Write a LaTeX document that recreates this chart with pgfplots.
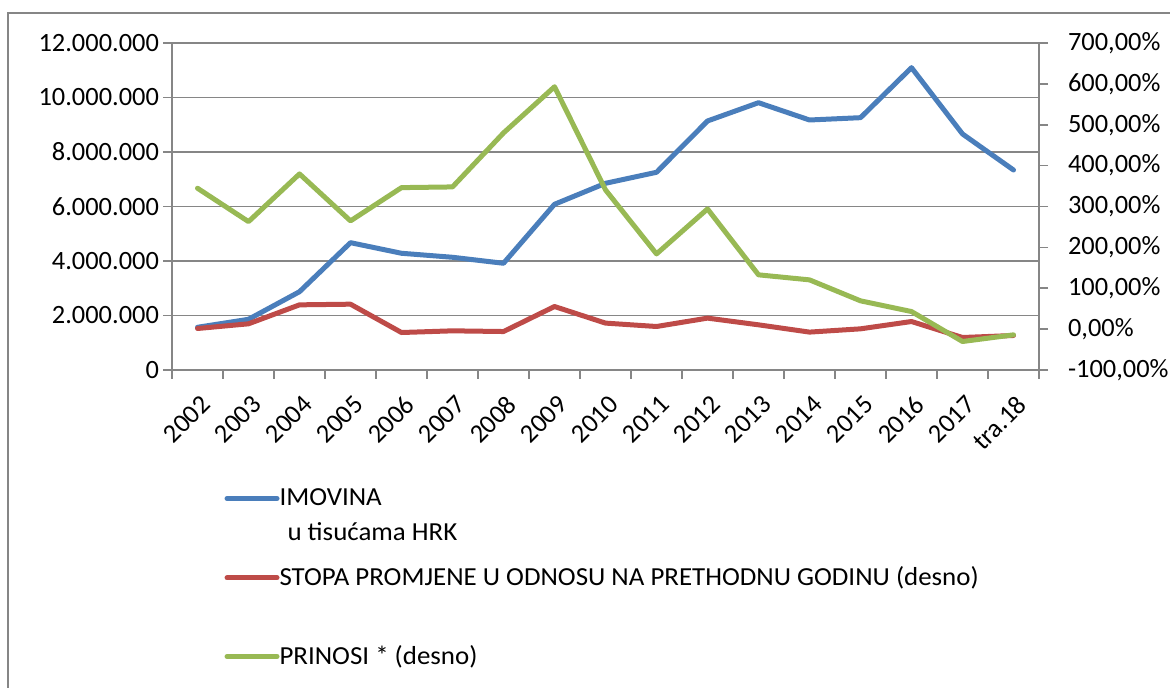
\documentclass[border=0pt]{standalone}
\usepackage{pgfplots}
\usepackage{pgfplotstable}
\pgfplotsset{compat=1.18}
\usepackage{fontspec}
\setmainfont{Carlito}
\newfontfamily\legfam{Carlito}[FakeStretch=1.035]
\definecolor{cblue}{RGB}{74,126,187}
\definecolor{cred}{RGB}{190,75,72}
\definecolor{cgreen}{RGB}{152,185,84}
\definecolor{cgrid}{RGB}{134,134,134}
\newcommand\lblfont{\fontsize{13.2}{15.8}\selectfont}
\newcommand\legfont{\legfam\fontsize{13}{15.6}\selectfont}

\pgfplotstableread{
x imovina stopa prinosi
0  1567000   1.5   344.7
1  1860000  13.0   263.0
2  2873000  59.4   379.7
3  4672000  61.0   264.8
4  4283000  -8.3   346.2
5  4136000  -4.2   347.9
6  3916000  -5.9   480.0
7  6081000  55.3   593.0
8  6851000  14.7   340.6
9  7255000   6.4   184.0
10 9138000  26.9   294.0
11 9809000  10.5   132.8
12 9174000  -7.3   120.5
13 9259000   0.7    69.2
14 11094000 18.6    43.0
15 8661000 -20.5   -30.3
16 7339000 -15.6   -14.0
}\datatable

\pgfplotsset{
  common/.style={
    scale only axis, width=433.5pt, height=163.5pt,
    at={(86pt,159pt)}, anchor=south west,
    xmin=-0.5, xmax=16.5,
    tick align=outside,
    major tick length=4.5pt, minor tick length=4.5pt,
    tick style={cgrid, line width=0.75pt},
    axis line style={cgrid, line width=0.75pt, -},
    tick label style={font=\lblfont, text=black},
    legend cell align=left,
    legend style={draw=none, fill=none, inner sep=0pt, outer sep=0pt,
      font=\legfont, nodes={inner sep=0pt}, column sep=0pt},
    legend image code/.code={\draw[##1, line cap=round] (0pt,0pt) -- (25pt,0pt);},
    every axis plot/.append style={line width=2.5pt, line join=round, line cap=round, mark=none},
  }
}

\begin{document}
\begin{tikzpicture}
\useasboundingbox (0,0) rectangle (585pt,344pt);
\draw[cgrid, line width=0.75pt] (4pt,-5pt) -- (4pt,337.5pt) -- (590pt,337.5pt);

\begin{axis}[common,
  ymin=0, ymax=12000000, scaled y ticks=false,
  ytick={0,2000000,4000000,6000000,8000000,10000000,12000000},
  yticklabels={0,2.000.000,4.000.000,6.000.000,8.000.000,10.000.000,12.000.000},
  yticklabel style={xshift=1.5pt},
  axis x line*=bottom, axis y line*=left,
  ymajorgrids, grid style={cgrid, line width=0.75pt},
  xtick={0,...,16},
  xticklabels={2002,2003,2004,2005,2006,2007,2008,2009,2010,2011,2012,2013,2014,2015,2016,2017,tra.18},
  major x tick style={draw=none},
  minor xtick={-0.5,0.5,...,16.5},
  xticklabel style={rotate=45, anchor=east, inner sep=0pt, yshift=-10.5pt, xshift=-4.5pt},
  legend style={at={(0.0606,-0.3627)}, anchor=north west, row sep=7pt},
]
\addplot[cblue] table[x=x, y=imovina] {\datatable};
\addlegendentry{IMOVINA}
\addlegendimage{empty legend}
\addlegendentry{\hspace{4pt}u tisućama HRK}
\end{axis}

\begin{axis}[common,
  ymin=-100, ymax=700,
  ytick={-100,0,100,200,300,400,500,600,700},
  yticklabels={{-100,00\%},{0,00\%},{100,00\%},{200,00\%},{300,00\%},{400,00\%},{500,00\%},{600,00\%},{700,00\%}},
  yticklabel style={xshift=6.5pt},
  axis y line*=right, axis x line=none,
  legend style={at={(0.0606,-0.602)}, anchor=north west, row sep=28.3pt},
]
\addplot[cred] table[x=x, y=stopa] {\datatable};
\addlegendentry{STOPA PROMJENE U ODNOSU NA PRETHODNU GODINU (desno)}
\addplot[cgreen] table[x=x, y=prinosi] {\datatable};
\addlegendentry{PRINOSI * (desno)}
\end{axis}
\end{tikzpicture}
\end{document}
